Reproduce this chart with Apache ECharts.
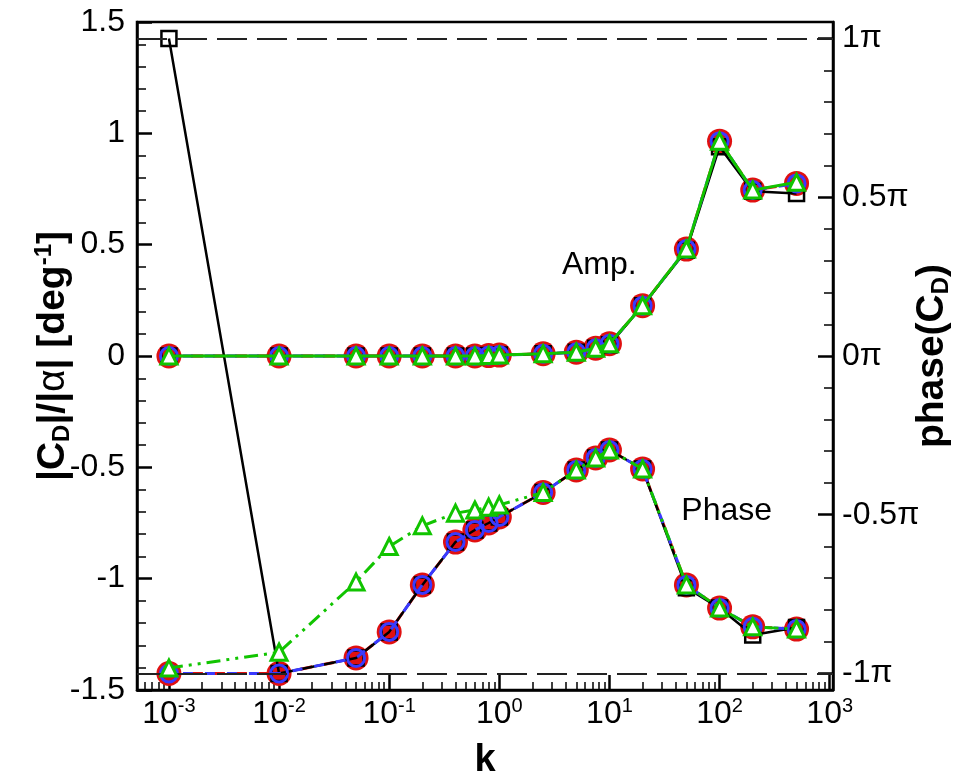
<!DOCTYPE html>
<html>
<head>
<meta charset="utf-8">
<script src="https://cdn.jsdelivr.net/npm/echarts@6/dist/echarts.min.js"></script>
<style>html,body{margin:0;padding:0;background:#fff;}#c{width:961px;height:772px;}</style>
</head>
<body>
<div id="c"></div>
<script>
// ---- data ----
var kValues = [0.001, 0.01, 0.05, 0.1, 0.2, 0.4, 0.6, 0.8, 1, 2.5, 5, 7.5, 10, 20, 50, 100, 200, 500];

var ampBlack = [0, 0, 0, 0, 0, 0, 0, 0.002, 0.004, 0.01, 0.017, 0.035, 0.05, 0.226, 0.475, 0.94, 0.74, 0.73];
var ampRed   = [0, 0, 0, 0, 0, 0, 0, 0.002, 0.004, 0.01, 0.017, 0.035, 0.055, 0.226, 0.48, 0.965, 0.745, 0.775];
var ampBlue  = [0, 0, 0, 0, 0, 0, 0, 0.002, 0.004, 0.01, 0.017, 0.035, 0.055, 0.226, 0.48, 0.965, 0.745, 0.775];
var ampGreen = [0, 0, 0, 0, 0, 0, 0, 0.002, 0.004, 0.01, 0.017, 0.035, 0.055, 0.226, 0.48, 0.965, 0.745, 0.78];

// phase in units of pi
var phaseBlack = [1, -1, -0.951, -0.869, -0.721, -0.586, -0.548, -0.526, -0.507, -0.43, -0.359, -0.321, -0.296, -0.356, -0.73, -0.794, -0.879, -0.855];
var phaseRed   = [-1, -1, -0.951, -0.869, -0.721, -0.586, -0.548, -0.526, -0.507, -0.43, -0.359, -0.321, -0.296, -0.356, -0.721, -0.794, -0.853, -0.86];
var phaseBlue  = [-1, -1, -0.951, -0.869, -0.721, -0.586, -0.548, -0.526, -0.507, -0.43, -0.359, -0.321, -0.296, -0.356, -0.721, -0.794, -0.853, -0.86];
var phaseGreen = [-0.983, -0.933, -0.712, -0.6, -0.535, -0.495, -0.485, -0.476, -0.469, -0.43, -0.359, -0.321, -0.296, -0.356, -0.721, -0.794, -0.853, -0.86];

var phaseMajorTicks = [-1, -0.5, 0, 0.5, 1];
var phaseMinorTicks = [-0.9, -0.8, -0.7, -0.6, -0.4, -0.3, -0.2, -0.1, 0.1, 0.2, 0.3, 0.4, 0.6, 0.7, 0.8, 0.9];
var kMinorTicks = [0.0006, 0.0007, 0.0008, 0.0009,
  0.002, 0.003, 0.004, 0.005, 0.006, 0.007, 0.008, 0.009,
  0.02, 0.03, 0.04, 0.05, 0.06, 0.07, 0.08, 0.09,
  0.2, 0.3, 0.4, 0.5, 0.6, 0.7, 0.8, 0.9,
  2, 3, 4, 5, 6, 7, 8, 9,
  20, 30, 40, 50, 60, 70, 80, 90,
  200, 300, 400, 500, 600, 700, 800, 900];
var piLines = [-1, 1];

// ---- chart ----
var FONT = 'Liberation Sans';
var RED = '#e01010', BLUE = '#3a3aff', GREEN = '#11c400', BLACK = '#000';
var xMin = Math.pow(10, -3.29), xMax = Math.pow(10, 3.03);

function pairs(ys) { return kValues.map(function (k, i) { return [k, ys[i]]; }); }

function mkSeries(name, ys, yIdx, kind, lineType, z) {
  var s = { name: name, type: 'line', data: pairs(ys), yAxisIndex: yIdx, xAxisIndex: 0, z: z,
    animation: false, emphasis: { disabled: true } };
  if (kind === 'black') {
    s.symbol = 'rect'; s.symbolSize = 15;
    s.itemStyle = { color: 'rgba(0,0,0,0)', borderColor: BLACK, borderWidth: 2.5 };
    s.lineStyle = { color: BLACK, width: 2.5, type: lineType };
  } else if (kind === 'red') {
    s.symbol = 'circle'; s.symbolSize = 25;
    s.itemStyle = { color: RED, borderWidth: 0 };
    s.lineStyle = { color: RED, width: 3, type: lineType };
  } else if (kind === 'blue') {
    s.symbol = 'circle'; s.symbolSize = 17;
    s.itemStyle = { color: 'rgba(0,0,0,0)', borderColor: BLUE, borderWidth: 3 };
    s.lineStyle = { color: BLUE, width: 3, type: lineType, dashOffset: 8 };
  } else {
    s.symbol = 'triangle'; s.symbolSize = 16;
    s.itemStyle = { color: '#fff', borderColor: GREEN, borderWidth: 3 };
    s.lineStyle = { color: GREEN, width: 3, type: lineType };
  }
  return s;
}

var series = [
  mkSeries('ampRed', ampRed, 0, 'red', [12, 10], 2),
  mkSeries('ampBlack', ampBlack, 0, 'black', 'solid', 3),
  mkSeries('ampBlue', ampBlue, 0, 'blue', [10, 12], 4),
  mkSeries('ampGreen', ampGreen, 0, 'green', 'solid', 5),
  mkSeries('phRed', phaseRed, 1, 'red', [12, 10], 2),
  mkSeries('phBlack', phaseBlack, 1, 'black', 'solid', 3),
  mkSeries('phBlue', phaseBlue, 1, 'blue', [10, 12], 4),
  mkSeries('phGreen', phaseGreen, 1, 'green', [14, 6, 3, 6, 3, 6], 5)
];
series[5].markLine = {
  silent: true, symbol: 'none', animation: false,
  label: { show: false },
  lineStyle: { color: '#222', width: 2, type: [30, 10] },
  data: piLines.map(function (v) { return { yAxis: v }; })
};

var chart = echarts.init(document.getElementById('c'), null, { renderer: 'canvas' });

var tickLabel = { fontFamily: FONT, fontSize: 32, color: '#000' };

chart.setOption({
  animation: false,
  backgroundColor: '#fff',
  grid: { left: 137, right: 128, top: 22, bottom: 82, outerBoundsMode: 'none', containLabel: false,
          show: true, borderColor: '#000', borderWidth: 2.5, backgroundColor: 'transparent' },
  xAxis: [
    { type: 'log', logBase: 10, min: xMin, max: xMax, position: 'bottom',
      name: 'k', nameLocation: 'middle', nameGap: 52, nameMoveOverlap: false,
      nameTextStyle: { fontFamily: FONT, fontSize: 38, fontWeight: 'bold', color: '#000' },
      axisLine: { onZero: false, lineStyle: { color: '#000', width: 2.5 } },
      axisTick: { inside: true, length: 15, lineStyle: { color: '#000', width: 2.5 } },
      splitLine: { show: false },
      axisLabel: { margin: 6, showMinLabel: false, showMaxLabel: false,
        formatter: function (v) {
          var l = Math.log10(v), e = Math.round(l);
          if (Math.abs(l - e) > 0.01) return '';
          return '{b|10}{s|' + e + '}';
        },
        rich: { b: { fontFamily: FONT, fontSize: 32, color: '#000', lineHeight: 36 },
                s: { fontFamily: FONT, fontSize: 20, color: '#000', verticalAlign: 'top', lineHeight: 36 } } } },
    { type: 'log', logBase: 10, min: xMin, max: xMax, position: 'bottom',
      axisLine: { show: false, onZero: false },
      axisTick: { inside: true, length: 8, customValues: kMinorTicks, lineStyle: { color: '#000', width: 1.5 } },
      axisLabel: { show: false }, splitLine: { show: false } }
  ],
  yAxis: [
    { type: 'value', min: -1.5, max: 1.5, interval: 0.5, position: 'left',
      name: '{b||C}{bs|D}{b||/|}{a|α}{b|| [deg}{bp|-1}{b|]}',
      nameLocation: 'middle', nameGap: 63, nameRotate: 90, nameMoveOverlap: false,
      nameTextStyle: { color: '#000', rich: {
        b: { fontFamily: FONT, fontSize: 39, fontWeight: 'bold', color: '#000', lineHeight: 42 },
        bs: { fontFamily: FONT, fontSize: 24, fontWeight: 'bold', color: '#000', verticalAlign: 'bottom', lineHeight: 42 },
        bp: { fontFamily: FONT, fontSize: 24, fontWeight: 'bold', color: '#000', verticalAlign: 'top', lineHeight: 42 },
        a: { fontFamily: FONT, fontSize: 39, color: '#000', lineHeight: 42 } } },
      axisLine: { onZero: false, lineStyle: { color: '#000', width: 2.5 } },
      axisTick: { inside: true, length: 15, lineStyle: { color: '#000', width: 2.5 } },
      minorTick: { show: true, splitNumber: 5, length: 9, lineStyle: { color: '#000', width: 1.5 } },
      splitLine: { show: false },
      axisLabel: Object.assign({ margin: 12 }, tickLabel) },
    { type: 'value', min: -1.052, max: 1.052, position: 'right',
      name: '{b|phase(C}{bs|D}{b|)}',
      nameLocation: 'middle', nameGap: 78, nameRotate: 90, nameMoveOverlap: false,
      nameTextStyle: { color: '#000', rich: {
        b: { fontFamily: FONT, fontSize: 39, fontWeight: 'bold', color: '#000', lineHeight: 42 },
        bs: { fontFamily: FONT, fontSize: 24, fontWeight: 'bold', color: '#000', verticalAlign: 'bottom', lineHeight: 42 } } },
      axisLine: { onZero: false, lineStyle: { color: '#000', width: 2.5 } },
      axisTick: { inside: true, length: 15, customValues: phaseMajorTicks, lineStyle: { color: '#000', width: 2.5 } },
      splitLine: { show: false },
      axisLabel: Object.assign({ margin: 9, customValues: phaseMajorTicks,
        formatter: function (v) { return (Math.abs(v) < 1e-9 ? '0' : String(v)) + 'π'; } }, tickLabel) },
    { type: 'value', min: -1.052, max: 1.052, position: 'right',
      axisLine: { show: false, onZero: false },
      axisTick: { inside: true, length: 9, customValues: phaseMinorTicks, lineStyle: { color: '#000', width: 1.5 } },
      axisLabel: { show: false }, splitLine: { show: false } }
  ],
  series: series
});

var pAmp = chart.convertToPixel({ xAxisIndex: 0, yAxisIndex: 0 }, [8.1, 0.41]);
var pPh = chart.convertToPixel({ xAxisIndex: 0, yAxisIndex: 1 }, [116, -0.49]);
chart.setOption({
  graphic: [
    { type: 'text', x: pAmp[0], y: pAmp[1], z: 10,
      style: { text: 'Amp.', font: '32px "Liberation Sans"', fill: '#000', align: 'center', verticalAlign: 'middle' } },
    { type: 'text', x: pPh[0], y: pPh[1], z: 10,
      style: { text: 'Phase', font: '32px "Liberation Sans"', fill: '#000', align: 'center', verticalAlign: 'middle' } }
  ]
});
</script>
</body>
</html>
